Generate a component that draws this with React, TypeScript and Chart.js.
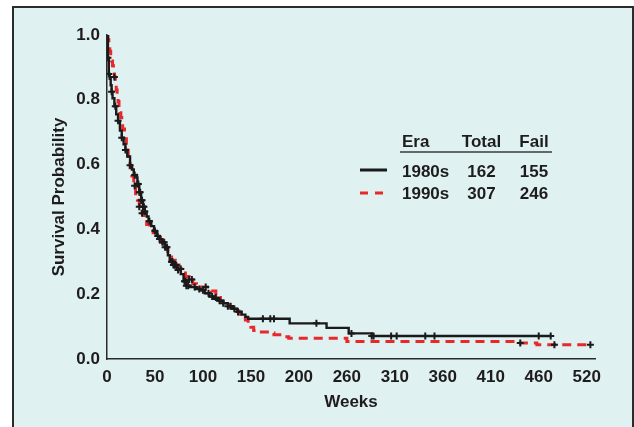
import React, { useEffect, useRef } from 'react';
import { Chart, registerables } from 'chart.js';

Chart.register(...registerables);

// ---- data ----
const xTickLabels = ['0', '50', '100', '150', '200', '260', '310', '360', '410', '460', '520'];

const weeks1980 = [0, 1, 2, 3, 4, 5, 6, 8, 10, 12, 14, 16, 18, 20, 22, 25, 27, 29, 32, 33, 35, 37, 39, 41, 43, 45, 48, 51, 54, 57, 60, 63, 66, 68, 72, 76, 80, 83, 86, 90, 96, 101, 106, 111, 116, 121, 126, 131, 136, 141, 146, 150, 153, 198, 238, 262, 287, 481];
const surv1980 = [1.0, 0.93, 0.88, 0.865, 0.845, 0.825, 0.805, 0.78, 0.755, 0.735, 0.705, 0.683, 0.663, 0.645, 0.625, 0.598, 0.585, 0.568, 0.56, 0.54, 0.515, 0.49, 0.47, 0.455, 0.44, 0.425, 0.41, 0.395, 0.38, 0.37, 0.36, 0.345, 0.32, 0.30, 0.29, 0.275, 0.262, 0.24, 0.226, 0.222, 0.216, 0.212, 0.203, 0.193, 0.186, 0.18, 0.172, 0.163, 0.155, 0.146, 0.137, 0.13, 0.124, 0.11, 0.096, 0.079, 0.071, 0.071];

const weeks1990 = [0, 1, 2, 3, 4, 5, 6, 7, 8, 9, 10, 11, 12, 13, 14, 15, 16, 17, 19, 21, 23, 25, 27, 29, 31, 33, 35, 38, 40, 43, 46, 50, 54, 58, 62, 66, 70, 74, 78, 81, 85, 89, 93, 97, 101, 113, 118, 123, 128, 133, 138, 143, 148, 150, 153, 156, 159, 165, 176, 181, 190, 197, 260, 446, 466, 524];
const surv1990 = [1.0, 0.985, 0.965, 0.95, 0.935, 0.92, 0.905, 0.89, 0.87, 0.85, 0.83, 0.81, 0.795, 0.775, 0.76, 0.745, 0.725, 0.71, 0.68, 0.65, 0.62, 0.59, 0.565, 0.535, 0.51, 0.49, 0.47, 0.45, 0.435, 0.415, 0.405, 0.39, 0.375, 0.36, 0.345, 0.325, 0.305, 0.29, 0.278, 0.27, 0.255, 0.245, 0.232, 0.224, 0.222, 0.21, 0.19, 0.178, 0.168, 0.158, 0.148, 0.138, 0.126, 0.12, 0.108, 0.098, 0.088, 0.083, 0.08, 0.075, 0.069, 0.064, 0.054, 0.049, 0.044, 0.044];

const censor1980 = [1, 2, 5, 9, 12, 16, 20, 25, 30, 33, 34, 35, 36, 37, 38, 39, 40, 41, 46, 52, 55, 57, 60, 62, 63, 70, 71, 72, 73, 74, 77, 84, 85, 86, 88, 95, 100, 104, 110, 114, 122, 126, 131, 134, 138, 142, 169, 177, 181, 227, 265, 287, 289, 308, 314, 345, 355, 468, 481];
const censor1990 = [8, 30, 35, 38, 65, 75, 80, 89, 92, 107, 118, 448, 485, 524];

const legendEras = ['1980s', '1990s'];
const legendTotals = ['162', '307'];
const legendFails = ['155', '246'];

// ---- styles ----
const FONT = "'Liberation Sans', Arial, Helvetica, sans-serif";
const TEXT = '#1f1c1d';
const BG = '#dff1f1';
const RED = '#e8292c';
const BLACK = '#1a1a1a';

function survAt(times: number[], surv: number[], t: number) {
  let v = surv[0];
  for (let i = 0; i < times.length; i++) {
    if (times[i] <= t) v = surv[i];
  }
  return v;
}

const framePlugin = {
  id: 'frame',
  beforeDraw(chart: any) {
    const ctx = chart.ctx;
    ctx.save();
    ctx.fillStyle = '#ffffff';
    ctx.fillRect(0, 0, chart.width, chart.height);
    ctx.fillStyle = BG;
    ctx.fillRect(13, 7, 620, chart.height);
    ctx.strokeStyle = '#2b2b2b';
    ctx.lineWidth = 2;
    ctx.strokeRect(13, 7, 620, chart.height + 20);
    ctx.restore();
  },
};

const tablePlugin = {
  id: 'table',
  afterDraw(chart: any) {
    const ctx = chart.ctx;
    ctx.save();
    ctx.fillStyle = TEXT;
    ctx.font = `bold 17px ${FONT}`;
    ctx.textBaseline = 'middle';
    ctx.textAlign = 'left';
    ctx.fillText('Era', 402, 142);
    ctx.textAlign = 'center';
    ctx.fillText('Total', 481.5, 142);
    ctx.fillText('Fail', 534, 142);
    ctx.strokeStyle = '#3a3a3a';
    ctx.lineWidth = 1.5;
    ctx.beginPath();
    ctx.moveTo(400, 152);
    ctx.lineTo(552, 152);
    ctx.stroke();
    const rowY = [172.5, 194];
    for (let i = 0; i < legendEras.length; i++) {
      ctx.textAlign = 'left';
      ctx.fillText(legendEras[i], 402, rowY[i]);
      ctx.textAlign = 'center';
      ctx.fillText(legendTotals[i], 481.5, rowY[i]);
      ctx.fillText(legendFails[i], 534, rowY[i]);
    }
    ctx.lineWidth = 3;
    ctx.strokeStyle = BLACK;
    ctx.beginPath();
    ctx.moveTo(360, 170);
    ctx.lineTo(387, 170);
    ctx.stroke();
    ctx.strokeStyle = RED;
    ctx.setLineDash([8, 7]);
    ctx.beginPath();
    ctx.moveTo(360, 193);
    ctx.lineTo(385, 193);
    ctx.stroke();
    ctx.restore();
  },
};

export default function App() {
  const ref = useRef<HTMLCanvasElement | null>(null);

  useEffect(() => {
    document.body.style.margin = '0';
    const canvas = ref.current;
    if (!canvas) return;

    const line1980 = weeks1980.map((t, i) => ({ x: t, y: surv1980[i] }));
    const line1990 = weeks1990.map((t, i) => ({ x: t, y: surv1990[i] }));
    const marks = [
      ...censor1980.map((t) => ({ x: t, y: survAt(weeks1980, surv1980, t) })),
      ...censor1990.map((t) => ({ x: t, y: survAt(weeks1990, surv1990, t) })),
    ];

    const chart = new Chart(canvas, {
      type: 'line',
      data: {
        datasets: [
          {
            type: 'scatter',
            label: 'censored',
            data: marks,
            showLine: false,
            pointStyle: 'cross',
            pointRadius: 3.5,
            pointBorderWidth: 2,
            pointBorderColor: BLACK,
            borderColor: BLACK,
          } as any,
          {
            label: '1980s',
            data: line1980,
            borderColor: BLACK,
            borderWidth: 2.4,
            stepped: 'before',
            pointRadius: 0,
            fill: false,
          },
          {
            label: '1990s',
            data: line1990,
            borderColor: RED,
            borderWidth: 3,
            borderDash: [9, 6],
            stepped: 'before',
            pointRadius: 0,
            fill: false,
          },
        ],
      },
      options: {
        responsive: false,
        animation: false,
        devicePixelRatio: 1,
        layout: { padding: { left: 0, right: 39, top: 35, bottom: 0 } },
        plugins: {
          legend: { display: false },
          tooltip: { enabled: false },
        },
        scales: {
          x: {
            type: 'linear',
            min: 0,
            max: 529,
            grid: { display: false, drawTicks: false },
            border: { display: true, color: '#2b2b2b', width: 1.5 },
            ticks: {
              stepSize: 52,
              includeBounds: false,
              autoSkip: false,
              maxRotation: 0,
              padding: 8,
              color: TEXT,
              font: { family: FONT, size: 17, weight: 'bold' },
              callback: (_v: any, index: number) => xTickLabels[index],
            },
            title: {
              display: true,
              text: 'Weeks',
              color: TEXT,
              font: { family: FONT, size: 17, weight: 'bold' },
              padding: { top: 0, bottom: 14 },
            },
            afterFit: (scale: any) => {
              scale.height = 68;
            },
          },
          y: {
            type: 'linear',
            min: 0,
            max: 1,
            grid: { display: false, drawTicks: false },
            border: { display: true, color: '#2b2b2b', width: 1.5 },
            ticks: {
              stepSize: 0.2,
              padding: 7,
              color: TEXT,
              font: { family: FONT, size: 17, weight: 'bold' },
              callback: (v: any) => Number(v).toFixed(1),
            },
            title: {
              display: true,
              text: 'Survival Probability',
              color: TEXT,
              font: { family: FONT, size: 17, weight: 'bold' },
              padding: { top: 49, bottom: 0 },
            },
            afterFit: (scale: any) => {
              scale.width = 107;
            },
          },
        },
      },
      plugins: [framePlugin, tablePlugin],
    });

    return () => chart.destroy();
  }, []);

  return (
    <div style={{ width: 634, height: 427 }}>
      <canvas ref={ref} width={634} height={427} style={{ display: 'block' }} />
    </div>
  );
}
